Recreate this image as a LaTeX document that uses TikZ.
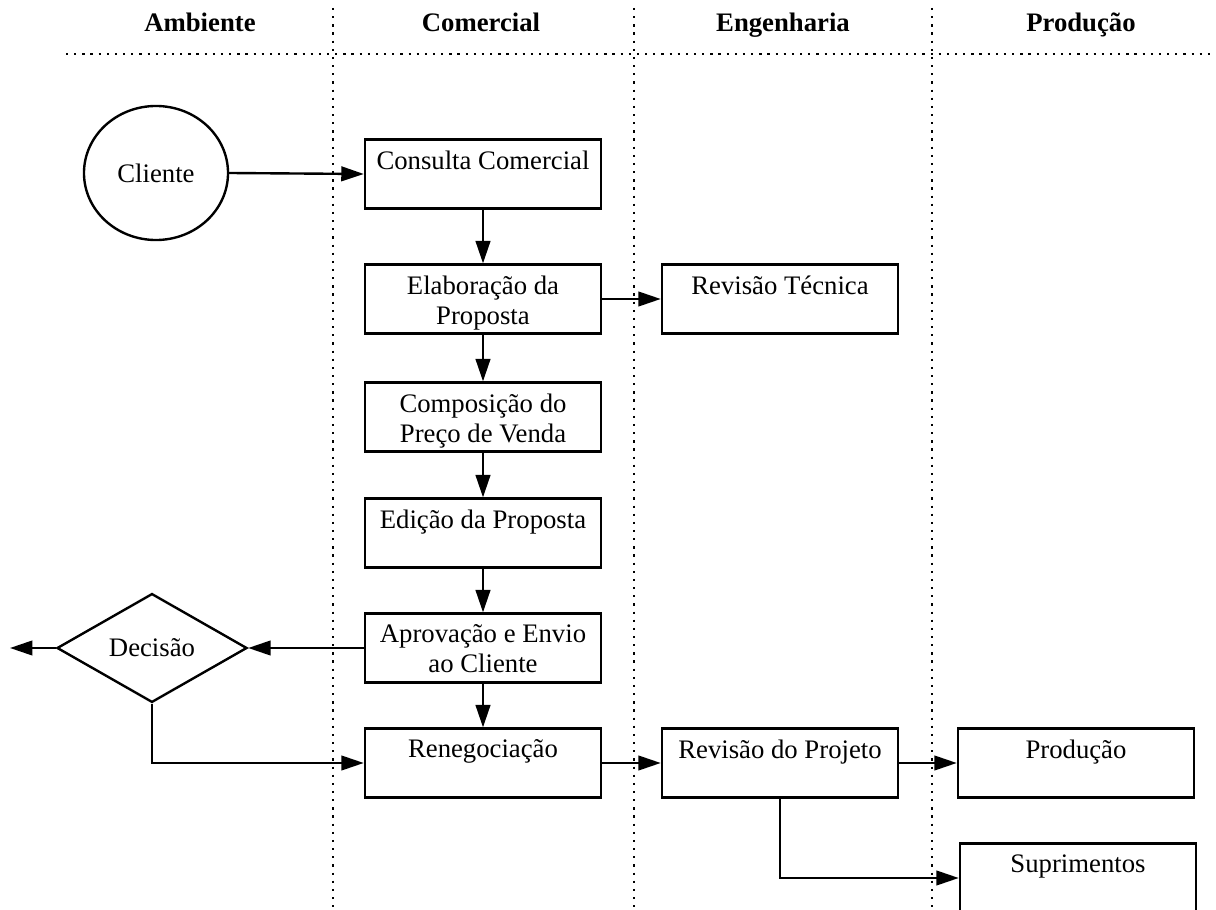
\documentclass[tikz,border=0pt]{standalone}
\usepackage{fontspec}
\setmainfont{Liberation Serif}
\usepackage{tikz}
\usetikzlibrary{arrows.meta,shapes.geometric}

\begin{document}
\begin{tikzpicture}[
  x=0.0125cm, y=-0.0125cm,
  font=\fontsize{9.5}{10.7}\selectfont,
  >={Triangle[length=8pt,width=5.2pt]},
  lanehead/.style={anchor=base, font=\fontsize{9.5}{10.7}\selectfont\bfseries},
  lane/.style={line width=0.8pt, dash pattern=on 0.8pt off 2.1pt},
  task/.style={draw, line width=0.85pt, minimum width=2.95cm, minimum height=0.86cm, inner sep=0pt},
  tasktext/.style={anchor=north, inner sep=0pt, align=center, yshift=-0.145cm},
  actor/.style={draw, ellipse, line width=0.85pt, minimum width=1.8cm, minimum height=1.675cm},
  choice/.style={draw, diamond, aspect=1.75, line width=0.85pt, minimum width=2.375cm, minimum height=1.36cm, inner sep=0pt},
  flow/.style={->, line width=0.85pt}
]

\useasboundingbox (0,0) rectangle (1216,910);

% Lanes
\node[lanehead] (hAmbiente) at (200,32) {Ambiente};
\node[lanehead] (hComercial) at (481,32) {Comercial};
\node[lanehead] (hEngenharia) at (783,32) {Engenharia};
\node[lanehead] (hProducao) at (1081,32) {Produção};

\draw[lane] (66,54) -- (1216,54);
\draw[lane] (333,8) -- (333,912);
\draw[lane] (634,8) -- (634,912);
\draw[lane] (932,8) -- (932,912);

% Ambiente
\node[actor] (cliente) at (156,173) {Cliente};
\node[choice] (decisao) at (152,648) {Decisão};
\coordinate (saida) at (10,648);

% Comercial
\node[task] (consulta) at (483,174) {};
\node[tasktext] (consultaT) at (consulta.north) {Consulta Comercial};
\node[task] (elaboracao) at (483,299) {};
\node[tasktext] (elaboracaoT) at (elaboracao.north) {Elaboração da\\Proposta};
\node[task] (composicao) at (483,417) {};
\node[tasktext] (composicaoT) at (composicao.north) {Composição do\\Preço de Venda};
\node[task] (edicao) at (483,533) {};
\node[tasktext] (edicaoT) at (edicao.north) {Edição da Proposta};
\node[task] (aprovacao) at (483,648) {};
\node[tasktext] (aprovacaoT) at (aprovacao.north) {Aprovação e Envio\\ao Cliente};
\node[task] (renegociacao) at (483,763) {};
\node[tasktext] (renegociacaoT) at (renegociacao.north) {Renegociação};

% Engenharia
\node[task] (revtecnica) at (780,299) {};
\node[tasktext] (revtecnicaT) at (revtecnica.north) {Revisão Técnica};
\node[task] (revprojeto) at (780,763) {};
\node[tasktext] (revprojetoT) at (revprojeto.north) {Revisão do Projeto};

% Producao
\node[task] (producao) at (1076,763) {};
\node[tasktext] (producaoT) at (producao.north) {Produção};
\node[task] (suprimentos) at (1078,878) {};
\node[tasktext] (suprimentosT) at (suprimentos.north) {Suprimentos};

% Fluxo
\draw[flow] (cliente.east) -- (consulta.west);
\draw[flow] (consulta) -- (elaboracao);
\draw[flow] (elaboracao) -- (revtecnica);
\draw[flow] (elaboracao) -- (composicao);
\draw[flow] (composicao) -- (edicao);
\draw[flow] (edicao) -- (aprovacao);
\draw[flow] (aprovacao) -- (decisao);
\draw[flow] (decisao.west) -- (saida);
\draw[flow] (aprovacao) -- (renegociacao);
\draw[flow] (decisao.south) |- (renegociacao.west);
\draw[flow] (renegociacao) -- (revprojeto);
\draw[flow] (revprojeto) -- (producao);
\draw[flow] (revprojeto.south) |- (suprimentos.west);

\end{tikzpicture}
\end{document}
